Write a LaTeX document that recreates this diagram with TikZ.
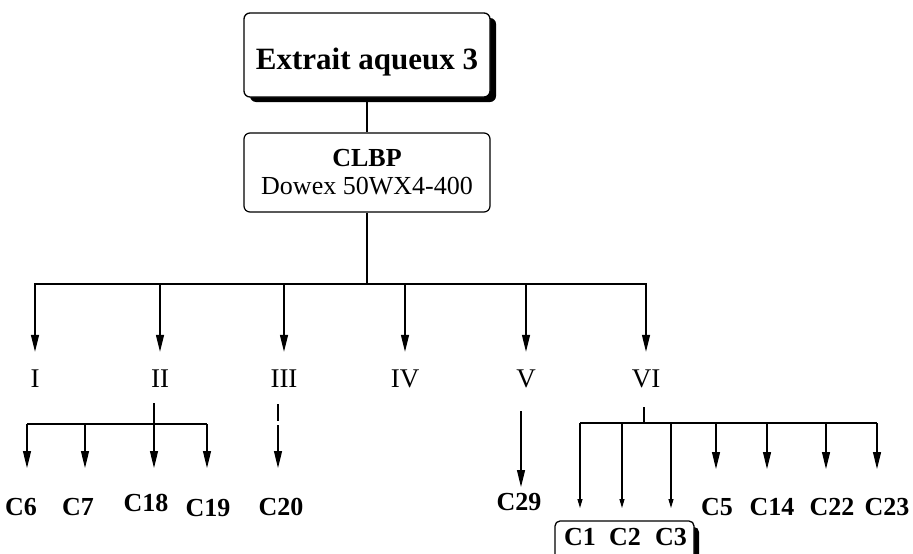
\documentclass[tikz,border=0pt]{standalone}
\usepackage{fontspec}
\setmainfont{Liberation Serif}
\usetikzlibrary{arrows.meta,shadows}
\begin{document}
\begin{tikzpicture}[x=1pt,y=-1pt,
  ln/.style={line width=1.3pt},
  arr/.style={line width=1.2pt,-{Triangle[length=17pt,width=8pt]}},
  sarr/.style={line width=1.1pt,-{Triangle[length=9pt,width=5pt]}},
  rom/.style={inner sep=0pt,text height=18pt,text depth=0pt,font=\fontsize{27}{30}\selectfont},
  cl/.style={inner sep=0pt,text height=18pt,text depth=0pt,font=\fontsize{26}{30}\selectfont\bfseries},
  ]
\useasboundingbox (0,0) rectangle (913,554);
\clip (0,0) rectangle (913,554);
% top box
\node[draw, line width=1.3pt, rounded corners=6pt, fill=white,
      minimum width=246pt, minimum height=84pt, text height=28pt, text depth=0pt,
      inner sep=0pt, font=\fontsize{31}{36}\selectfont\bfseries,
      drop shadow={shadow xshift=6pt, shadow yshift=-5pt, fill=black, opacity=1}]
      (top) at (367,55) {Extrait aqueux 3};
\node[draw, line width=1.2pt, rounded corners=6pt, fill=white,
      minimum width=246pt, minimum height=79pt, inner sep=0pt, align=center,
      font=\fontsize{26}{28}\selectfont]
      (clbp) at (367,172.5) {\textbf{CLBP}\\Dowex 50WX4-400};
\draw[ln] (top.south) -- (clbp.north);
\coordinate (bar) at (367,284);
\draw[ln] (clbp.south) -- (bar);
% roman numerals
\node[rom] (n1) at (35,378) {I};
\node[rom] (n2) at (160,378) {II};
\node[rom] (n3) at (284,378) {III};
\node[rom] (n4) at (405,378) {IV};
\node[rom] (n5) at (526,378) {V};
\node[rom] (n6) at (646,378) {VI};
\draw[line width=1.8pt] ([xshift=-1pt]bar -| n1) -- ([xshift=1pt]bar -| n6);
\foreach \n in {n1,n2,n3,n4,n5,n6}{
  \draw[arr] ([yshift=-1pt]bar -| \n) -- ([yshift=17pt]\n.north);
}
% labels
\node[cl] (c6)  at (21,506)  {C6};
\node[cl] (c7)  at (78,506)  {C7};
\node[cl] (c18) at (146,502) {C18};
\node[cl] (c19) at (208,507) {C19};
\node[cl] (c20) at (281,506) {C20};
\node[cl] (c29) at (519,501) {C29};
\node[cl] (c5)  at (717,506) {C5};
\node[cl] (c14) at (772,506) {C14};
\node[cl] (c22) at (832,506) {C22};
\node[cl] (c23) at (887,506) {C23};
% group box C1 C2 C3
\node[draw, line width=1.3pt, rounded corners=5pt, fill=white,
      minimum width=139pt, minimum height=56pt, inner sep=0pt,
      drop shadow={shadow xshift=5pt, shadow yshift=-6pt, fill=black, opacity=1}]
      (grp) at (624.5,549) {};
\node[cl] (c1) at (580,536) {C1};
\node[cl] (c2) at (625,536) {C2};
\node[cl] (c3) at (671,536) {C3};
% II branch
\coordinate (b2) at (154,424);
\draw[ln] (154,403) -- (b2);
\draw[ln] (27,424) -- (207,424);
\draw[arr] (27,424) -- (27,468);
\draw[arr] (85,424) -- (85,468);
\draw[arr] (154,424) -- (154,468);
\draw[arr] (207,424) -- (207,468);
% III branch
\draw[ln] (278,404) -- (278,421);
\draw[arr] (278,425) -- (278,468);
% V branch
\draw[arr] (521,411) -- (521,487);
% VI branch
\coordinate (b6) at (644,423);
\draw[ln] (644,407) -- (b6);
\draw[ln] (580,423) -- (877,423);
\draw[sarr] (580,423) -- (580,508);
\draw[sarr] (622,423) -- (622,508);
\draw[sarr] (671,423) -- (671,508);
\draw[arr] (716,423) -- (716,469);
\draw[arr] (767,423) -- (767,469);
\draw[arr] (826,423) -- (826,469);
\draw[arr] (877,423) -- (877,469);
\end{tikzpicture}
\end{document}
